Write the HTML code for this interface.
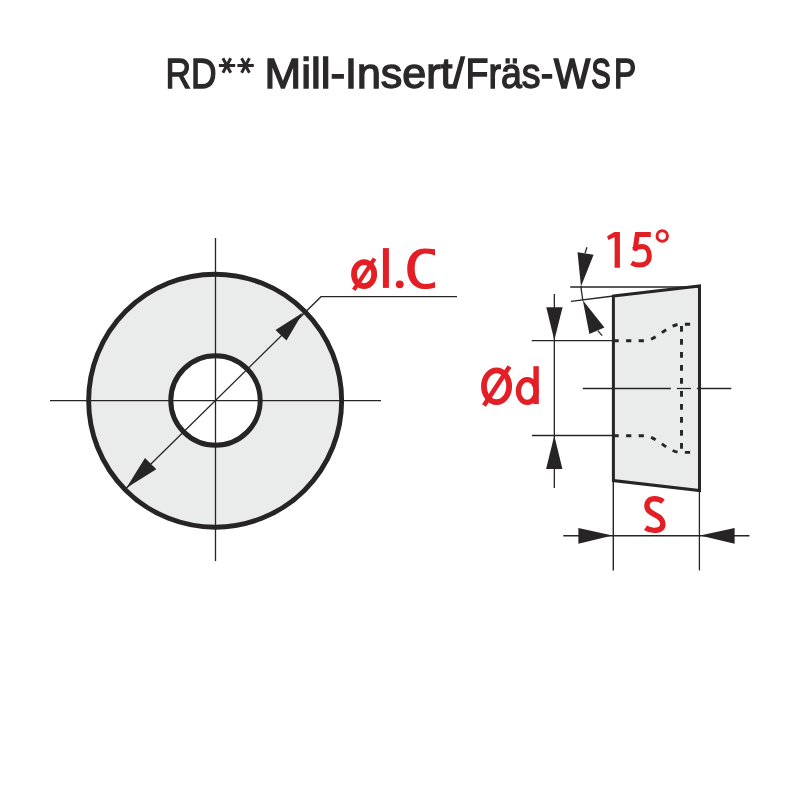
<!DOCTYPE html>
<html><head><meta charset="utf-8">
<style>
html,body{margin:0;padding:0;background:#fff;width:800px;height:800px;overflow:hidden}
svg{display:block;will-change:transform}
text{font-family:"Liberation Sans",sans-serif}
</style></head>
<body>
<svg width="800" height="800" viewBox="0 0 800 800">
<rect width="800" height="800" fill="#fff"/>
<!-- title -->
<g id="t_title" font-size="43" fill="#2a2828" stroke="#2a2828" stroke-width="1.4">
<text transform="translate(165.5,88.2) scale(0.824,1)">RD</text>
<g stroke-width="3" fill="none">
<path d="M218.9,65.6 H235.2 M222.9,58.3 L230.7,72.8 M230.7,58.3 L222.9,72.8"/>
<path d="M237.4,65.6 H253.8 M241.6,58.3 L249.4,72.8 M249.4,58.3 L241.6,72.8"/>
</g>
<text transform="translate(264.5,88.2) scale(1.023,1)">Mill-</text>
<text transform="translate(345,88.2) scale(1.0,1)">Insert/</text>
<text transform="translate(465.5,88.2) scale(0.874,1)">Fräs-</text>
<text transform="translate(554,88.2) scale(0.89,1)" stroke-width="1.7">W</text>
<text transform="translate(591.2,88.2) scale(0.68,1)" stroke-width="1.9">S</text>
<text transform="translate(614.1,88.2) scale(0.775,1)" stroke-width="1.7">P</text>
</g>

<!-- LEFT VIEW -->
<circle cx="215.15" cy="400.7" r="126.5" fill="#eaebeb" stroke="#262424" stroke-width="4.9"/>
<circle cx="215.5" cy="400.5" r="44.7" fill="#fff" stroke="#262424" stroke-width="5"/>
<g stroke="#262424" stroke-width="1.3" fill="none">
<line x1="215.5" y1="238" x2="215.5" y2="561"/>
<line x1="50" y1="400.6" x2="381" y2="400.6"/>
<polyline points="126.5,488 321,296.7 457,296.7"/>
</g>
<g fill="#262424">
<polygon points="303,312.5 275.5,330 286.5,340.5"/>
<polygon points="126.3,488 145,458 156.3,469.3"/>
</g>
<g id="t_ic">
<ellipse cx="364.1" cy="274.2" rx="10.1" ry="12" fill="none" stroke="#e31e25" stroke-width="5.8"/>
<line x1="374.6" y1="258.7" x2="353.8" y2="289.9" stroke="#e31e25" stroke-width="4.2"/>
<g fill="#e31e25">
<rect x="382.9" y="248.1" width="6" height="39.8"/>
<circle cx="399.75" cy="284.3" r="3.9"/>
<path d="M435,249.3 C431.5,248.7 428,248.4 424.5,248.4 C413.5,248.4 407.2,257 407.2,268.7 C407.2,281 414,289 424.5,289 C428.5,289 432,288.5 435,287.75 L435,282.1 C432,283.3 429,284 425.5,284 C418.5,284 414.7,277.5 414.7,268.7 C414.7,259 419,253.4 425.5,253.4 C429,253.4 432,254.3 435,255.6 Z"/>
</g>
</g>

<!-- RIGHT VIEW -->
<polygon points="613.4,296 699.5,286 699.5,490.6 613.4,480.6" fill="#eaebeb" stroke="#262424" stroke-width="3" stroke-linejoin="miter"/>
<g stroke="#262424" stroke-width="1.3" fill="none">
<line x1="570.2" y1="287" x2="699.5" y2="287" stroke-width="1.6"/>
<line x1="571" y1="301.3" x2="613.4" y2="296"/>
<line x1="580.8" y1="286" x2="582.8" y2="300.5"/>
<line x1="585" y1="253.4" x2="586.9" y2="247.2"/>
<line x1="597.8" y1="330.6" x2="602.2" y2="335.6"/>
<!-- Od dimension -->
<line x1="554.35" y1="294" x2="554.35" y2="488"/>
<line x1="531.7" y1="340.6" x2="613.4" y2="340.6"/>
<line x1="532" y1="435.5" x2="613.4" y2="435.5"/>
<!-- S dimension -->
<line x1="563.3" y1="535.7" x2="749.5" y2="535.7" stroke-width="1.5"/>
<line x1="613.3" y1="480.6" x2="613.3" y2="570.4" stroke-width="1.4"/>
<line x1="699.4" y1="490.6" x2="699.4" y2="570.4"/>
<!-- center line -->
<line x1="582.8" y1="388.5" x2="670.9" y2="388.5"/>
<line x1="676.9" y1="388.5" x2="690.9" y2="388.5"/>
<line x1="696.9" y1="388.5" x2="731.3" y2="388.5"/>
</g>
<g fill="#262424">
<polygon points="581,286.6 577.5,252.2 593.6,254.7"/>
<polygon points="582.8,300.3 589.4,334.1 604.4,327.5"/>
<polygon points="554.3,340.3 546.3,307.3 562.6,307.3"/>
<polygon points="554.3,435.4 546.1,469.1 562.4,469.1"/>
<polygon points="612.5,535.6 578.4,527.9 578.4,543.7"/>
<polygon points="700,535.6 734.6,528 734.6,543.7"/>
</g>
<!-- dashed hole -->
<g stroke="#262424" stroke-width="2.9" fill="none">
<path stroke-dasharray="5.2 7.4" d="M613.5,340.8 H644 C656,340.8 666,326 679,324.2 H694"/>
<path stroke-dasharray="5.2 7.4" d="M613.5,435.8 H644 C656,435.8 666,450.6 679,452.4 H694"/>
<path stroke-dasharray="5.8 7.2" stroke-dashoffset="-2" d="M681.5,324 V452"/>
</g>
<g id="t_15" fill="#e31e25">
<polygon points="619.9,232.1 614.3,232.1 607.1,236.2 608.3,240.1 614.6,237.3 614.6,267.8 619.9,267.8"/>
<path d="M650.8,234.6 H637.3 L635,250.5" fill="none" stroke="#e31e25" stroke-width="5" stroke-linejoin="miter"/>
<path d="M633.6,249.6 C636.5,247.4 639.5,246.6 642.2,246.6 C646.8,246.6 649.3,250.5 649.3,256 C649.3,261.8 645.5,265 640.2,265 C636.8,265 634,264.3 631.5,262.8" fill="none" stroke="#e31e25" stroke-width="5"/>
<circle cx="662.25" cy="236" r="5.2" fill="none" stroke="#e31e25" stroke-width="3"/>
</g>
<g id="t_od">
<ellipse cx="496.55" cy="386.3" rx="12.6" ry="15.9" fill="none" stroke="#e31e25" stroke-width="5.8"/>
<line x1="509.5" y1="366.6" x2="484" y2="405.6" stroke="#e31e25" stroke-width="4.6"/>
<ellipse cx="527.25" cy="391" rx="8.85" ry="11.45" fill="none" stroke="#e31e25" stroke-width="5.2"/>
<rect x="533.4" y="366.2" width="5.4" height="37.9" fill="#e31e25"/>
</g>
<path id="t_s" fill="none" stroke="#e31e25" stroke-width="5.4" d="M663,501.8 C660.5,499.6 657.5,498.7 654.5,498.7 C649.5,498.7 646.9,501.8 646.9,505.8 C646.9,510.5 650.5,512.5 655,514.7 C660,517 662.9,519.5 662.9,524 C662.9,528.5 659.5,530.4 654,530.4 C651,530.4 648,529.5 645.5,527.8"/>
</svg>
</body></html>
